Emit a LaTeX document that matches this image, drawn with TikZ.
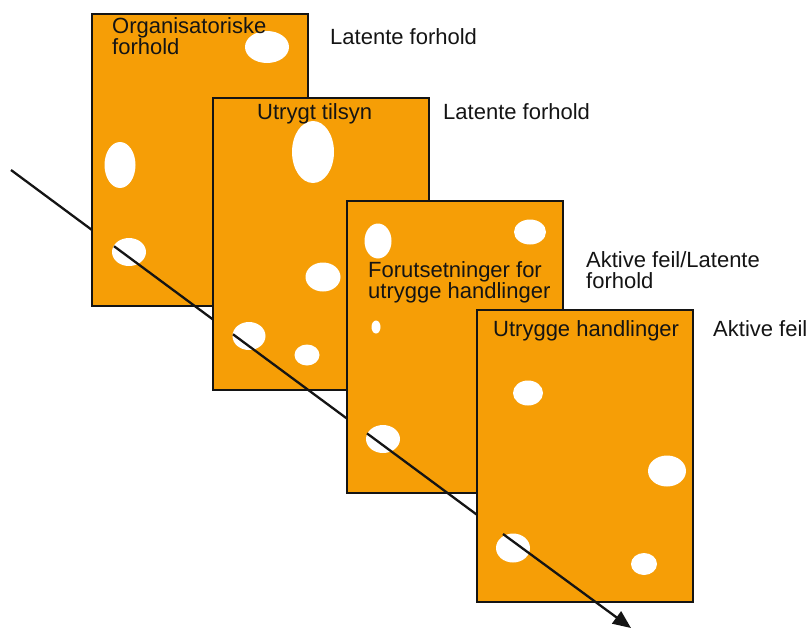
\documentclass[tikz,border=0pt]{standalone}
\usepackage{fontspec}
\setmainfont{Liberation Sans}
\usetikzlibrary{shapes.geometric,arrows.meta}
\definecolor{cheese}{RGB}{246,158,6}
\definecolor{ink}{RGB}{20,20,20}
\begin{document}
\begin{tikzpicture}[x=1pt,y=-1pt,
  slice/.style={rectangle,draw=ink,line width=2.6pt,fill=cheese,minimum width=216pt,minimum height=292pt,inner sep=0pt},
  hole/.style={ellipse,fill=white,draw=none,inner sep=0pt},
  lbl/.style={anchor=north west,inner sep=0pt,align=left,font=\fontsize{22}{21}\selectfont,text=ink},
  ray/.style={line width=2.3pt,draw=ink}]
\useasboundingbox (0,0) rectangle (810,630);
% ray points
\coordinate (r0) at (11,170);
\coordinate (e1) at (92,230);
\coordinate (x1) at (114,246.2);
\coordinate (e2) at (213,319.5);
\coordinate (x2) at (233,334.3);
\coordinate (e3) at (347,418.6);
\coordinate (x3) at (367,433.4);
\coordinate (e4) at (477,514.8);
\coordinate (x4) at (503,534);
\coordinate (r5) at (631,628);

\draw[ray] (r0) -- (e1);

% slice 1
\node[slice] (s1) at (200,160) {};
\node[hole,minimum width=44pt,minimum height=32pt] (h11) at (267,47) {};
\node[hole,minimum width=31pt,minimum height=46pt] (h12) at (120,165) {};
\node[hole,minimum width=34pt,minimum height=28pt] (h13) at (129,252) {};
\node[lbl] (t1) at (112,17) {Organisatoriske\\forhold};
\node[lbl] (l1) at (330,28) {Latente forhold};
\draw[ray] (x1) -- (e2);

% slice 2
\node[slice] (s2) at (321,244) {};
\node[hole,minimum width=42pt,minimum height=62pt] (h21) at (313,152) {};
\node[hole,minimum width=35pt,minimum height=29pt] (h22) at (323,277) {};
\node[hole,minimum width=33pt,minimum height=28pt] (h23) at (249,336) {};
\node[hole,minimum width=25pt,minimum height=21pt] (h24) at (307,355) {};
\node[lbl] (t2) at (257,103) {Utrygt tilsyn};
\node[lbl] (l2) at (443,103) {Latente forhold};
\draw[ray] (x2) -- (e3);

% slice 3
\node[slice] (s3) at (455,347) {};
\node[hole,minimum width=27pt,minimum height=35pt] (h31) at (378,241) {};
\node[hole,minimum width=32pt,minimum height=25pt] (h32) at (530,232) {};
\node[hole,minimum width=9pt,minimum height=13pt] (h33) at (376,327) {};
\node[hole,minimum width=34pt,minimum height=28pt] (h34) at (383,439) {};
\node[lbl] (t3) at (368,261) {Forutsetninger for\\utrygge handlinger};
\node[lbl] (l3) at (586,251) {Aktive feil/Latente\\forhold};
\draw[ray] (x3) -- (e4);

% slice 4
\node[slice] (s4) at (585,456) {};
\node[hole,minimum width=30pt,minimum height=25pt] (h41) at (528,393) {};
\node[hole,minimum width=38pt,minimum height=31pt] (h42) at (667,471) {};
\node[hole,minimum width=34pt,minimum height=29pt] (h43) at (513,548) {};
\node[hole,minimum width=26pt,minimum height=22pt] (h44) at (644,564) {};
\node[lbl] (t4) at (493,320) {Utrygge handlinger};
\node[lbl] (l4) at (713,320) {Aktive feil};
\draw[ray,-{Triangle[length=18pt,width=15pt]}] (x4) -- (r5);
\end{tikzpicture}
\end{document}
